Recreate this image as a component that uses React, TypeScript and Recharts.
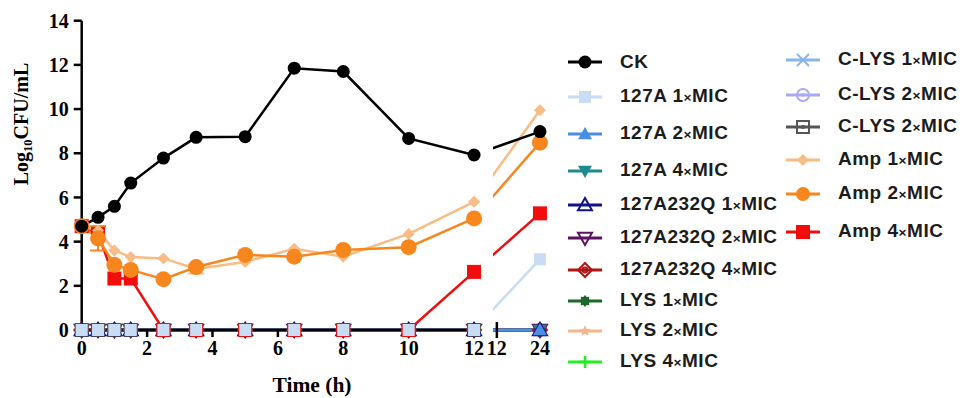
import { LineChart, Line, XAxis, YAxis, ErrorBar } from "recharts";

// sampling times (h)
const TIMES = [0, 0.5, 1, 1.5, 2.5, 3.5, 5, 6.5, 8, 10, 12, 24];

// Log10 CFU/mL
const CK = [4.7, 5.1, 5.6, 6.65, 7.78, 8.72, 8.75, 11.85, 11.7, 8.67, 7.92, 8.98];
const A127_1X = [0, 0, 0, 0, 0, 0, 0, 0, 0, 0, 0, 3.2];
const NO_GROWTH = [0, 0, 0, 0, 0, 0, 0, 0, 0, 0, 0, 0];
const C_LYS_2X_B = [0, 0, 0, 0, 0, 0, 0, 0, 0, 0, 0, null];
const AMP_1X = [4.7, 4.5, 3.6, 3.3, 3.24, 2.76, 3.08, 3.68, 3.32, 4.35, 5.8, 9.95];
const AMP_2X = [4.7, 4.15, 2.95, 2.72, 2.3, 2.85, 3.4, 3.32, 3.62, 3.75, 5.05, 8.48];
const AMP_4X = [4.7, 4.35, 2.33, 2.33, 0, 0, 0, 0, 0, 0, 2.63, 5.28];
const AMP_1X_ERR = [null, null, null, null, null, 0.2, null, null, null, null, null, null];
const AMP_2X_ERR = [null, 0.55, null, null, null, null, null, null, null, null, null, null];

const Y_TICKS = [0, 2, 4, 6, 8, 10, 12, 14];
const SEG1_TICKS = [0, 2, 4, 6, 8, 10, 12];
// right-hand panel of the broken axis: starts just after the break, labelled 12 and 24
const SEG2_TICKS = [16.2, 24];
const SEG2_LABELS = ["12", "24"];

type Shape =
  | "circle" | "square" | "triUp" | "triDown" | "openTriUp" | "openTriDown"
  | "openDiamond" | "diamond" | "hex" | "star" | "plus" | "cross" | "ringDot" | "boxDot";

interface Series {
  key: string;
  name: string;
  color: string;
  shape: Shape;
  r: number;
  values: (number | null)[];
  err?: (number | null)[];
}

const SERIES: Series[] = [
  { key: "ck", name: "CK", color: "#000000", shape: "circle", r: 6.5, values: CK },
  { key: "a1", name: "127A 1×MIC", color: "#c8dcf4", shape: "square", r: 6, values: A127_1X },
  { key: "a2", name: "127A 2×MIC", color: "#4a8ee6", shape: "triUp", r: 7, values: NO_GROWTH },
  { key: "a4", name: "127A 4×MIC", color: "#1d8a90", shape: "triDown", r: 7, values: NO_GROWTH },
  { key: "q1", name: "127A232Q 1×MIC", color: "#12128a", shape: "openTriUp", r: 7, values: NO_GROWTH },
  { key: "q2", name: "127A232Q 2×MIC", color: "#5c1462", shape: "openTriDown", r: 7, values: NO_GROWTH },
  { key: "q4", name: "127A232Q 4×MIC", color: "#b01414", shape: "openDiamond", r: 7, values: NO_GROWTH },
  { key: "l1", name: "LYS 1×MIC", color: "#1a6a2a", shape: "hex", r: 6, values: NO_GROWTH },
  { key: "l2", name: "LYS 2×MIC", color: "#f5b88a", shape: "star", r: 6, values: NO_GROWTH },
  { key: "l4", name: "LYS 4×MIC", color: "#22ee22", shape: "plus", r: 6, values: NO_GROWTH },
  { key: "c1", name: "C-LYS 1×MIC", color: "#8ab4ec", shape: "cross", r: 6, values: NO_GROWTH },
  { key: "c2", name: "C-LYS 2×MIC", color: "#aaaaf4", shape: "ringDot", r: 6, values: NO_GROWTH },
  { key: "c2b", name: "C-LYS 2×MIC", color: "#555555", shape: "boxDot", r: 6, values: C_LYS_2X_B },
  { key: "m1", name: "Amp 1×MIC", color: "#f8bc84", shape: "diamond", r: 6, values: AMP_1X, err: AMP_1X_ERR },
  { key: "m2", name: "Amp 2×MIC", color: "#f7861c", shape: "circle", r: 8, values: AMP_2X, err: AMP_2X_ERR },
  { key: "m4", name: "Amp 4×MIC", color: "#f20c0c", shape: "square", r: 7, values: AMP_4X },
];

const byKey = (k: string) => SERIES.find((s) => s.key === k)!;

// lines first, markers on top (bottom -> top)
const LINE_ORDER = ["a1", "m4", "l4", "l2", "l1", "c1", "c2", "q4", "q2", "q1", "a4", "a2", "c2b", "m1", "m2", "ck"].map(byKey);
const DOT_ORDER = ["l4", "l2", "l1", "c1", "c2", "q4", "q2", "a4", "c2b", "q1", "a2", "m4", "m1", "m2", "a1", "ck"].map(byKey);

const LEGEND_COL1 = ["ck", "a1", "a2", "a4", "q1", "q2", "q4", "l1", "l2", "l4"];
const LEGEND_COL2 = ["c1", "c2", "c2b", "m1", "m2", "m4"];
const LEGEND_COL1_Y = [62, 97, 134, 171, 205, 238, 270, 301, 331, 362];
const LEGEND_COL2_Y = [60, 95, 127, 160, 194, 232];

const ROWS = TIMES.map((t, i) => {
  const row: Record<string, number | null> = { t };
  SERIES.forEach((s) => {
    row[s.key] = s.values[i];
    if (s.err) row[s.key + "Err"] = s.err[i];
  });
  return row;
});
const ROWS_SEG1 = ROWS.filter((r) => (r.t as number) <= 12);
const ROWS_SEG2 = ROWS.filter((r) => (r.t as number) >= 12);

const SERIF = "'Liberation Serif', 'Times New Roman', serif";
const SANS = "'Liberation Sans', Arial, sans-serif";
const AXIS = { stroke: "#000", strokeWidth: 2.5 };
const TICK_FONT = { fontFamily: SERIF, fontWeight: 700, fontSize: 20, fill: "#000" };

const starPoints = (cx: number, cy: number, r: number, n: number, inner: number) => {
  const pts: string[] = [];
  for (let i = 0; i < 2 * n; i++) {
    const a = -Math.PI / 2 + (i * Math.PI) / n;
    const rr = i % 2 === 0 ? r : r * inner;
    pts.push(`${cx + rr * Math.cos(a)},${cy + rr * Math.sin(a)}`);
  }
  return pts.join(" ");
};

function Marker({ shape, cx, cy, r, color }: { shape: Shape; cx: number; cy: number; r: number; color: string }) {
  const up = `${cx},${cy - r} ${cx + r},${cy + r * 0.75} ${cx - r},${cy + r * 0.75}`;
  const down = `${cx},${cy + r} ${cx + r},${cy - r * 0.75} ${cx - r},${cy - r * 0.75}`;
  const dia = `${cx},${cy - r} ${cx + r},${cy} ${cx},${cy + r} ${cx - r},${cy}`;
  switch (shape) {
    case "circle":
      return <circle cx={cx} cy={cy} r={r} fill={color} />;
    case "square":
      return <rect x={cx - r} y={cy - r} width={2 * r} height={2 * r} fill={color} />;
    case "triUp":
      return <polygon points={up} fill={color} />;
    case "triDown":
      return <polygon points={down} fill={color} />;
    case "openTriUp":
      return <polygon points={up} fill="none" stroke={color} strokeWidth={2} />;
    case "openTriDown":
      return <polygon points={down} fill="none" stroke={color} strokeWidth={2} />;
    case "openDiamond":
      return (
        <g fill="none" stroke={color} strokeWidth={2}>
          <polygon points={dia} />
          <circle cx={cx} cy={cy} r={r * 0.35} />
        </g>
      );
    case "diamond":
      return <polygon points={dia} fill={color} />;
    case "hex":
      return <polygon points={starPoints(cx, cy, r, 8, 0.72)} fill={color} />;
    case "star":
      return <polygon points={starPoints(cx, cy, r, 5, 0.45)} fill={color} />;
    case "plus":
      return (
        <g stroke={color} strokeWidth={2.5}>
          <line x1={cx - r} x2={cx + r} y1={cy} y2={cy} />
          <line x1={cx} x2={cx} y1={cy - r} y2={cy + r} />
        </g>
      );
    case "cross":
      return (
        <g stroke={color} strokeWidth={2}>
          <line x1={cx - r} x2={cx + r} y1={cy - r} y2={cy + r} />
          <line x1={cx - r} x2={cx + r} y1={cy + r} y2={cy - r} />
        </g>
      );
    case "ringDot":
      return (
        <g>
          <circle cx={cx} cy={cy} r={r} fill="none" stroke={color} strokeWidth={2} />
          <circle cx={cx} cy={cy} r={r * 0.3} fill={color} />
        </g>
      );
    case "boxDot":
      return (
        <g>
          <rect x={cx - r} y={cy - r} width={2 * r} height={2 * r} fill="none" stroke={color} strokeWidth={2} />
          <rect x={cx - r * 0.3} y={cy - r * 0.3} width={r * 0.6} height={r * 0.6} fill={color} />
        </g>
      );
  }
  return null;
}

const dotRenderer = (s: Series, prefix: string) => (p: any) => {
  const k = `${prefix}-${s.key}-${p.index}`;
  if (p.cx == null || p.cy == null || p.value == null) return <g key={k} />;
  return (
    <g key={k}>
      <Marker shape={s.shape} cx={p.cx} cy={p.cy} r={s.r} color={s.color} />
    </g>
  );
};

const renderLines = (withErr: boolean) =>
  LINE_ORDER.map((s) => (
    <Line
      key={"line-" + s.key}
      type="linear"
      dataKey={s.key}
      stroke={s.color}
      strokeWidth={2.5}
      dot={false}
      activeDot={false}
      isAnimationActive={false}
    >
      {withErr && s.err ? (
        <ErrorBar dataKey={s.key + "Err"} width={8} strokeWidth={2} stroke={s.color} direction="y" />
      ) : null}
    </Line>
  ));

const renderDots = (prefix: string) =>
  DOT_ORDER.map((s) => (
    <Line
      key={"dots-" + s.key}
      type="linear"
      dataKey={s.key}
      stroke="none"
      dot={dotRenderer(s, prefix)}
      activeDot={false}
      isAnimationActive={false}
    />
  ));

const Seg2Tick = (props: any) => {
  const { x, y, payload, index } = props;
  const axisY = y - 7 - 4;
  return (
    <g>
      {payload.value !== 24 && (
        <line x1={x} x2={x} y1={axisY - 8} y2={axisY + 8} stroke="#000" strokeWidth={2.5} />
      )}
      <text x={x} y={y} dy="0.71em" textAnchor="middle" {...TICK_FONT}>
        {SEG2_LABELS[index] ?? payload.value}
      </text>
    </g>
  );
};

const LegendRow = ({ s, left, textLeft, y }: { s: Series; left: number; textLeft: number; y: number }) => {
  const [head, tail] = s.name.split("×");
  return (
    <div style={{ position: "absolute", left, top: y - 10, height: 20, display: "flex", alignItems: "center" }}>
      <svg width={36} height={20} style={{ flex: "none" }}>
        <line x1={1} x2={35} y1={10} y2={10} stroke={s.color} strokeWidth={3} />
        <Marker shape={s.shape} cx={18} cy={10} r={Math.min(s.r, 7)} color={s.color} />
      </svg>
      <span
        style={{
          marginLeft: textLeft - left - 36,
          fontFamily: SANS,
          fontWeight: 700,
          fontSize: 19,
          letterSpacing: 0.5,
          color: "#1c1c1c",
          whiteSpace: "nowrap",
          lineHeight: "20px",
        }}
      >
        {head}
        {tail !== undefined && (
          <>
            <span style={{ fontSize: "0.72em" }}>×</span>
            {tail}
          </>
        )}
      </span>
    </div>
  );
};

export default function App() {
  return (
    <div style={{ position: "absolute", left: 0, top: 0, width: 965, height: 398, background: "#fff", overflow: "hidden" }}>
      <div style={{ position: "absolute", left: 0, top: 0 }}>
        <LineChart width={490} height={398} data={ROWS_SEG1} margin={{ top: 20.7, right: 9.4, bottom: 0, left: 0 }}>
          <XAxis
            dataKey="t"
            type="number"
            domain={[0, 12.2]}
            ticks={SEG1_TICKS}
            interval={0}
            height={68}
            tickSize={7}
            tickMargin={4}
            axisLine={AXIS}
            tickLine={AXIS}
            tick={TICK_FONT}
            label={{
              content: () => (
                <text x={312} y={392} textAnchor="middle" fontFamily={SERIF} fontWeight={700} fontSize={21.5} fill="#000">
                  Time (h)
                </text>
              ),
            }}
          />
          <YAxis
            type="number"
            domain={[0, 14]}
            ticks={Y_TICKS}
            interval={0}
            width={81.7}
            tickSize={8}
            tickMargin={5}
            axisLine={AXIS}
            tickLine={AXIS}
            tick={TICK_FONT}
            label={{
              content: () => (
                <text
                  transform="translate(28,124) rotate(-90)"
                  textAnchor="middle"
                  fontFamily={SERIF}
                  fontWeight={700}
                  fontSize={20}
                  fill="#000"
                >
                  <tspan>Log</tspan>
                  <tspan fontSize={12.5} dy={4}>10</tspan>
                  <tspan dy={-4}>CFU/mL</tspan>
                </text>
              ),
            }}
          />
          {renderLines(true)}
          {renderDots("a")}
        </LineChart>
      </div>
      <div style={{ position: "absolute", left: 480, top: 0 }}>
        <LineChart width={80} height={398} data={ROWS_SEG2} margin={{ top: 20.7, right: 9, bottom: 0, left: 13 }}>
          <XAxis
            dataKey="t"
            type="number"
            domain={[15.5, 26]}
            allowDataOverflow
            ticks={SEG2_TICKS}
            interval={0}
            height={68}
            tickSize={7}
            tickMargin={4}
            axisLine={false}
            tickLine={false}
            tick={<Seg2Tick />}
          />
          <YAxis type="number" domain={[0, 14]} hide />
          {renderLines(false)}
          {renderDots("b")}
        </LineChart>
      </div>
      {LEGEND_COL1.map((k, i) => (
        <LegendRow key={"lg1-" + k} s={byKey(k)} left={567} textLeft={620} y={LEGEND_COL1_Y[i]} />
      ))}
      {LEGEND_COL2.map((k, i) => (
        <LegendRow key={"lg2-" + k} s={byKey(k)} left={785} textLeft={838} y={LEGEND_COL2_Y[i]} />
      ))}
    </div>
  );
}
